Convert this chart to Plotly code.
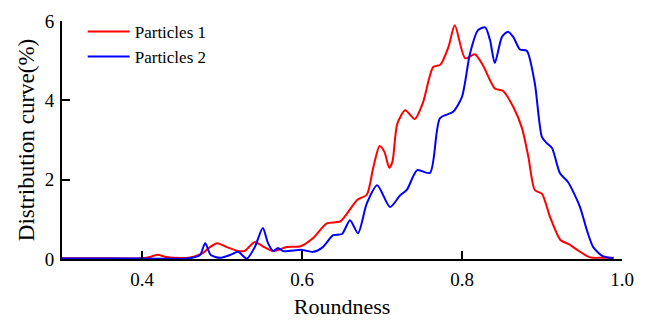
import plotly.graph_objects as go

# Roundness distribution curves for two particle samples
p1_x = [0.30, 0.35, 0.40, 0.41, 0.419, 0.43, 0.44, 0.46, 0.476, 0.485, 0.494, 0.506, 0.519, 0.528,
        0.541, 0.551, 0.564, 0.581, 0.598, 0.614, 0.631, 0.648, 0.669, 0.681, 0.689, 0.697, 0.703,
        0.709, 0.713, 0.719, 0.729, 0.741, 0.751, 0.764, 0.773, 0.783, 0.791, 0.804, 0.816, 0.826,
        0.841, 0.851, 0.864, 0.875, 0.883, 0.891, 0.90, 0.91, 0.923, 0.933, 0.944, 0.96, 0.975, 0.99]
p1_y = [0.02, 0.02, 0.02, 0.05, 0.11, 0.05, 0.03, 0.04, 0.15, 0.30, 0.40, 0.30, 0.21, 0.20,
        0.43, 0.32, 0.20, 0.30, 0.32, 0.53, 0.90, 0.95, 1.49, 1.62, 2.30, 2.85, 2.70,
        2.30, 2.45, 3.40, 3.75, 3.53, 3.93, 4.84, 4.90, 5.34, 5.89, 5.06, 5.16, 4.89,
        4.30, 4.24, 3.84, 3.30, 2.57, 1.74, 1.64, 1.06, 0.48, 0.38, 0.23, 0.04, 0.03, 0.03]

p2_x = [0.30, 0.40, 0.46, 0.4725, 0.479, 0.486, 0.4975, 0.51, 0.52, 0.531, 0.541, 0.551, 0.5575,
        0.564, 0.57, 0.576, 0.60, 0.614, 0.626, 0.639, 0.65, 0.66, 0.67, 0.681, 0.694, 0.71,
        0.7225, 0.731, 0.744, 0.76, 0.7725, 0.789, 0.80, 0.81, 0.82, 0.829, 0.835, 0.841, 0.85,
        0.8575, 0.864, 0.8725, 0.881, 0.891, 0.90, 0.906, 0.9125, 0.9225, 0.9325, 0.9475, 0.956,
        0.964, 0.976, 0.989]
p2_y = [0.01, 0.01, 0.02, 0.10, 0.40, 0.10, 0.03, 0.10, 0.18, 0.01, 0.30, 0.78, 0.40,
        0.20, 0.28, 0.20, 0.23, 0.18, 0.30, 0.60, 0.63, 0.98, 0.65, 1.40, 1.86, 1.31,
        1.60, 1.74, 2.24, 2.17, 3.55, 3.71, 4.09, 5.18, 5.77, 5.84, 5.52, 4.94, 5.60,
        5.73, 5.60, 5.28, 5.25, 4.43, 3.07, 2.92, 2.80, 2.16, 1.94, 1.31, 0.73,
        0.30, 0.07, 0.02]

x_ticks = [0.4, 0.6, 0.8, 1.0]
y_ticks = [0, 2, 4, 6]

FONT = "Liberation Serif"

fig = go.Figure()
fig.add_trace(go.Scatter(x=p1_x, y=p1_y, mode="lines", name="Particles 1",
                         line=dict(color="#ff0000", width=2, shape="spline", smoothing=0.7)))
fig.add_trace(go.Scatter(x=p2_x, y=p2_y, mode="lines", name="Particles 2",
                         line=dict(color="#0000ff", width=2, shape="spline", smoothing=0.7)))

axis_common = dict(showline=True, linecolor="black", linewidth=2, ticks="inside",
                   ticklen=8, tickwidth=2, tickcolor="black", showgrid=False, zeroline=False,
                   automargin=False,
                   tickfont=dict(family=FONT, size=19, color="black"))

fig.update_layout(
    width=646, height=320,
    margin=dict(l=62, r=24, t=21, b=61),
    paper_bgcolor="white", plot_bgcolor="white",
    font=dict(family=FONT, color="black"),
    xaxis=dict(range=[0.3, 1.0], tickvals=x_ticks, ticktext=[f"{v:.1f}" for v in x_ticks],
               ticklabelstandoff=2,
               title=dict(text="Roundness", font=dict(family=FONT, size=22), standoff=10),
               **axis_common),
    yaxis=dict(range=[0, 6], tickvals=y_ticks, ticklabelstandoff=2,
               title=dict(text="Distribution curve(%)", font=dict(family=FONT, size=23), standoff=4),
               **axis_common),
    legend=dict(x=0.037, y=1.03, xanchor="left", yanchor="top", bgcolor="rgba(0,0,0,0)",
                itemwidth=42, font=dict(family=FONT, size=17, color="black"), tracegroupgap=0),
    showlegend=True,
)

fig.write_html("out.html")
